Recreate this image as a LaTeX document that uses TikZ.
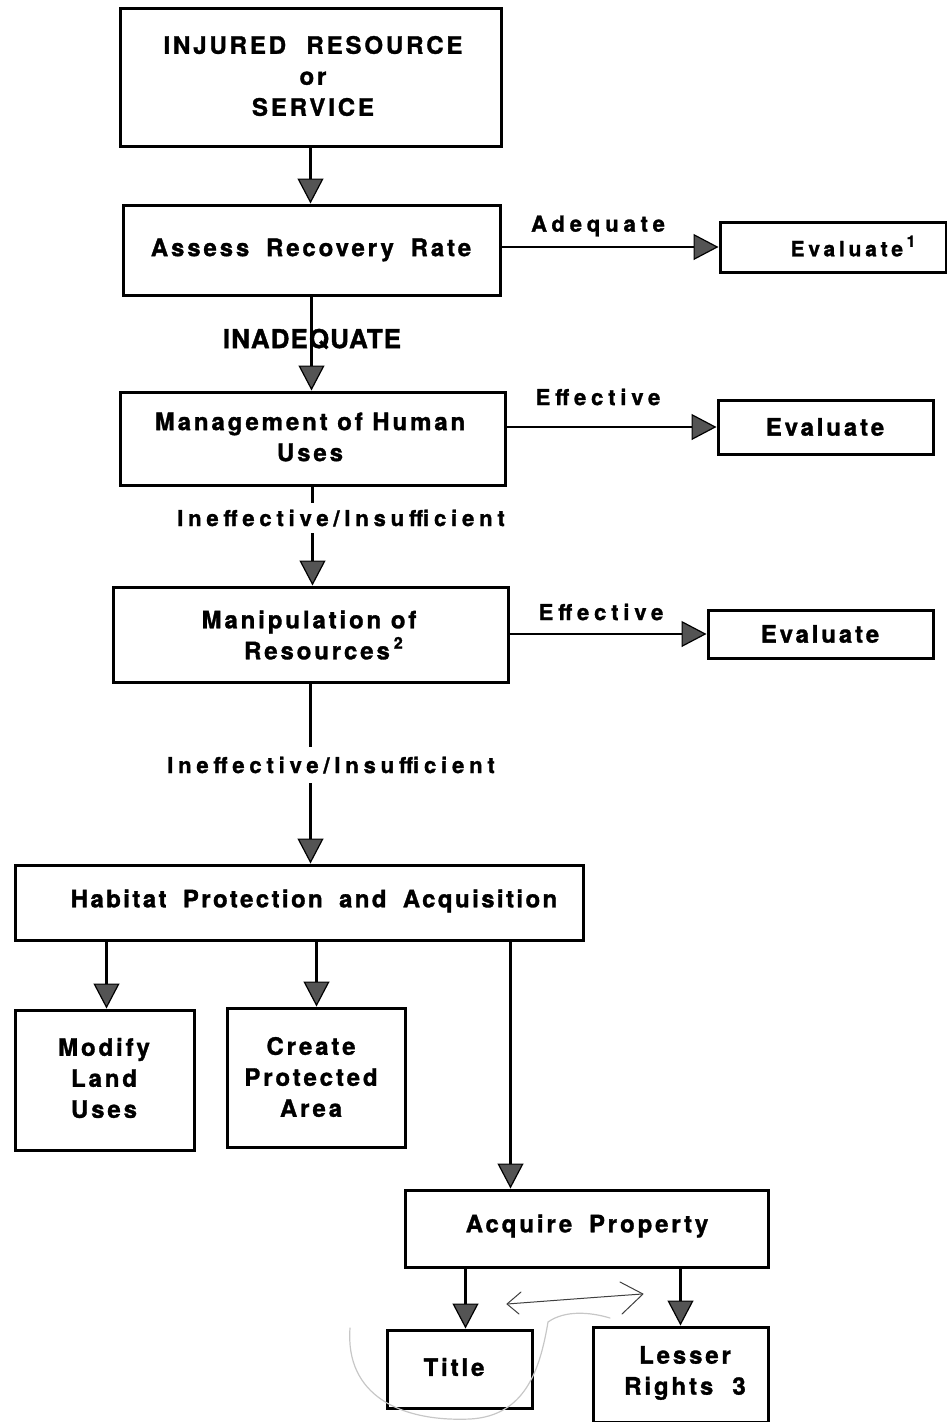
\documentclass[tikz,border=0pt]{standalone}
\usepackage{fontspec}
\setmainfont{TeX Gyre Heros}[BoldFeatures={FakeBold=1.3}]
\usetikzlibrary{arrows.meta}
\newcommand{\lsp}[1]{\addfontfeature{LetterSpace=#1}}
\newcommand{\sups}[1]{\raisebox{0.45em}{\fontsize{16}{16}\selectfont #1}}
\definecolor{tipgray}{gray}{0.33}
\tikzset{
  box/.style={draw, line width=3pt, rectangle, inner sep=0pt},
  txt/.style={font=\bfseries\fontsize{24}{31}\selectfont\lsp{12}, align=center, inner sep=0pt},
  lab/.style={font=\bfseries\fontsize{22}{26}\selectfont\lsp{22}, inner sep=2pt},
  conn/.style={line width=2.8pt, -{Triangle[length=25pt,width=26pt,fill=tipgray,line width=1.2pt]}},
  hand/.style={line width=1pt, draw=black!75, line cap=round, line join=round},
  faint/.style={line width=1.2pt, draw=black!22, line cap=round},
}
\begin{document}
\begin{tikzpicture}[x=1pt,y=-1pt]
\useasboundingbox (0,0) rectangle (946,1422);

% boxes
\node[box, minimum width=381pt, minimum height=138pt] (inj) at (310.5,77) {};
\node[txt] (injt) at (313,76) {INJURED\hspace{0.45em} RESOURCE\\or\\SERVICE};

\node[box, minimum width=377pt, minimum height=90pt] (assess) at (311.5,250) {};
\node[txt] (assesst) at (311,250) {Assess\hspace{0.3em} Recovery\hspace{0.3em} Rate};

\node[box, minimum width=226pt, minimum height=50pt] (eval1) at (833,247) {};
\node[txt, font=\bfseries\fontsize{21}{24}\selectfont\lsp{18}] (eval1t) at (853,246) {Evaluate\,\sups{1}};

\node[box, minimum width=385pt, minimum height=93pt] (mgmt) at (312.5,438.5) {};
\node[txt] (mgmtt) at (310,437) {Management of Human\\Uses};

\node[box, minimum width=215pt, minimum height=54pt] (eval2) at (825.5,427) {};
\node[txt] (eval2t) at (825,427) {Evaluate};

\node[box, minimum width=395pt, minimum height=95pt] (manip) at (310.5,634.5) {};
\node[txt] (manipt) at (309,635) {Manipulation of\\\hspace{1.2em}Resources\,\sups{2}};

\node[box, minimum width=225pt, minimum height=48pt] (eval3) at (820.5,634) {};
\node[txt] (eval3t) at (820,634) {Evaluate};

\node[box, minimum width=568pt, minimum height=75pt] (habitat) at (299,902.5) {};
\node[txt, font=\bfseries\fontsize{24}{31}\selectfont\lsp{10}] (habitatt) at (314,901) {Habitat\hspace{0.3em} Protection\hspace{0.3em} and\hspace{0.3em} Acquisition};

\node[box, minimum width=179pt, minimum height=140pt] (modify) at (104.5,1080) {};
\node[txt] (modifyt) at (104,1078) {Modify\\Land\\Uses};

\node[box, minimum width=178pt, minimum height=139pt] (create) at (316,1077.5) {};
\node[txt] (createt) at (311,1077) {Create\\Protected\\Area};

\node[box, minimum width=363pt, minimum height=77pt] (acquire) at (586.5,1228.5) {};
\node[txt] (acquiret) at (587,1226) {Acquire\hspace{0.3em} Property};

\node[box, minimum width=145pt, minimum height=78pt] (title) at (459.5,1369) {};
\node[txt] (titlet) at (454,1367) {Title};

\node[box, minimum width=175pt, minimum height=95pt] (lesser) at (680.5,1374.5) {};
\node[txt] (lessert) at (685,1373) {Lesser\\Rights\hspace{0.4em} 3};

% connectors
\draw[conn] (inj.south) -- (inj.south |- assess.north);
\draw[conn] (assess.east |- eval1.west) -- (eval1.west);
\draw[conn] (assess.south) -- (assess.south |- mgmt.north);
\draw[conn] (mgmt.east |- eval2.west) -- (eval2.west);
\draw[conn] (mgmt.south) -- (mgmt.south |- manip.north);
\draw[conn] (manip.east |- eval3.west) -- (eval3.west);
\draw[conn] (manip.south) -- (manip.south |- habitat.north);
\coordinate (modin) at ([xshift=93pt]modify.north west);
\coordinate (crein) at ([xshift=91pt]create.north west);
\coordinate (acqin) at ([xshift=107pt]acquire.north west);
\coordinate (titin) at ([xshift=80pt]title.north west);
\draw[conn] (habitat.south -| modin) -- (modin);
\draw[conn] (habitat.south -| crein) -- (crein);
\draw[conn] (habitat.south -| acqin) -- (acqin);
\draw[conn] (acquire.south -| titin) -- (titin);
\draw[conn] (acquire.south -| lesser.north) -- (lesser.north);

% labels
\node[lab] (adeq) at (598,226) {Adequate};
\node[font=\bfseries\fontsize{26}{28}\selectfont\lsp{4}, inner sep=0pt] (inadeq) at (312,339) {INADEQUATE};
\node[lab] (eff1) at (598,397) {Effective};
\node[lab, fill=white, inner xsep=2pt, inner ysep=7pt] (ineff1) at (341,518) {Ineffective/Insufficient};
\node[lab] (eff2) at (601,612) {Effective};
\node[lab, fill=white, inner xsep=2pt, inner ysep=10pt] (ineff2) at (331,765) {Ineffective/Insufficient};

% handwritten marks
\draw[hand] (507,1304) .. controls (560,1300) and (600,1297) .. (642,1294);
\draw[hand] (521,1292) -- (507,1304) -- (519,1314);
\draw[hand] (620,1282) -- (643,1294) -- (622,1314);
\draw[faint] (350,1328) .. controls (345,1395) and (400,1422) .. (470,1419)
  .. controls (525,1416) and (540,1370) .. (548,1322) .. controls (565,1310) and (590,1312) .. (610,1318);
\end{tikzpicture}
\end{document}
